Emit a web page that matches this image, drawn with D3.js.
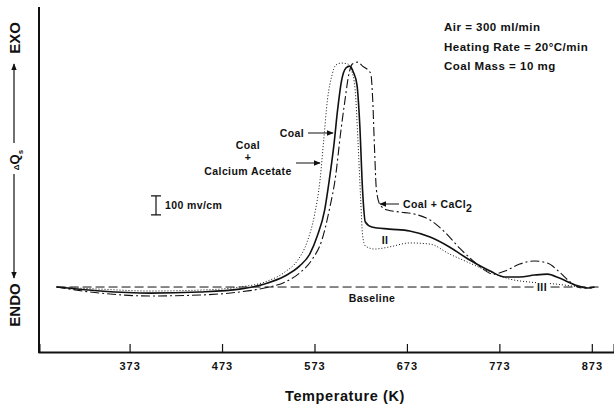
<!DOCTYPE html>
<html>
<head>
<meta charset="utf-8">
<script src="https://cdn.jsdelivr.net/npm/d3@7"></script>
<style>
  body { margin: 0; background: #fff; }
  text { font-family: "Liberation Sans", Arial, sans-serif; font-weight: bold; fill: #111; }
</style>
</head>
<body>
<div id="chart"></div>
<script>
// temperatures (K) and heat signal (mV, relative to baseline)
var coalT = [294,341,395,449,492,519,541,557,568,576,584,589,594,598,602,607,611,615,619,622,625,628,635,654,676,698,719,741,763,779,795,811,825,838,855,869,876];
var coalQ = [0,-21,-32,-26,-11,16,58,111,174,268,405,563,747,932,1079,1153,1163,1132,1063,853,511,342,316,305,295,263,211,142,84,53,53,63,68,47,11,-5,0];

var acetateT = [294,341,395,449,492,519,541,555,565,573,579,583,587,592,596,602,609,613,617,620,623,625,628,638,654,676,698,719,741,763,784,806,833,860];
var acetateQ = [0,-11,-21,-16,0,26,79,142,237,379,563,774,984,1116,1168,1179,1174,1142,1037,774,458,274,216,200,211,232,226,174,126,79,42,26,16,0];

var cacl2T = [294,341,395,449,492,519,541,557,570,581,589,596,601,606,610,614,620,625,631,634,636,638,640,644,652,665,681,698,714,730,746,757,766,779,795,811,825,838,851,862,873];
var cacl2Q = [0,-32,-47,-42,-26,-5,26,74,142,247,405,589,800,984,1116,1174,1184,1163,1142,1121,984,721,511,432,405,395,384,353,289,205,132,89,68,84,121,137,126,79,21,-5,-5];

var xTicks = [373, 473, 573, 673, 773, 873];
var infoLines = ["Air = 300 ml/min", "Heating Rate = 20\u00B0C/min", "Coal Mass = 10 mg"];

var width = 614, height = 407;

var svg = d3.select("#chart")
    .append("svg")
    .attr("width", width)
    .attr("height", height);

var x = d3.scaleLinear().domain([275, 897]).range([39, 614]);
var y = d3.scaleLinear().domain([-342, 1474]).range([352, 7]);

// arrow heads
var defs = svg.append("defs");
defs.append("marker")
    .attr("id", "head")
    .attr("viewBox", "0 0 10 10")
    .attr("refX", 9).attr("refY", 5)
    .attr("markerWidth", 7).attr("markerHeight", 7)
    .attr("markerUnits", "userSpaceOnUse")
    .attr("orient", "auto")
    .append("path")
    .attr("d", "M0,1 L10,5 L0,9 Z")
    .attr("fill", "#111");

// axes
svg.append("line")
    .attr("x1", 39).attr("x2", 39)
    .attr("y1", 7).attr("y2", 353)
    .attr("stroke", "#111").attr("stroke-width", 2);

var xAxis = svg.append("g")
    .attr("transform", "translate(0,352)")
    .call(d3.axisBottom(x).tickValues(xTicks).tickSize(-8).tickPadding(6).tickFormat(d3.format("d")));
xAxis.select(".domain").attr("stroke", "#111").attr("stroke-width", 2);
xAxis.selectAll(".tick line").attr("stroke", "#111").attr("stroke-width", 1.2);
xAxis.selectAll(".tick text")
    .attr("font-size", 11)
    .attr("letter-spacing", 1)
    .attr("font-family", "Liberation Sans, Arial, sans-serif")
    .attr("font-weight", "bold")
    .attr("dy", "1.05em");

svg.append("text")
    .attr("x", 345).attr("y", 401)
    .attr("text-anchor", "middle")
    .attr("font-size", 14.5)
    .attr("letter-spacing", 0.6)
    .text("Temperature (K)");

// y label: ENDO <- dQs -> EXO
var yl = 14;
svg.append("text")
    .attr("transform", "translate(" + (yl + 6) + ",38) rotate(-90)")
    .attr("text-anchor", "middle")
    .attr("font-size", 15)
    .text("EXO");
svg.append("text")
    .attr("transform", "translate(" + (yl + 6) + ",305) rotate(-90)")
    .attr("text-anchor", "middle")
    .attr("font-size", 15)
    .text("ENDO");
var dq = svg.append("text")
    .attr("transform", "translate(" + (yl + 5) + ",160) rotate(-90)")
    .attr("text-anchor", "middle")
    .attr("font-size", 13);
dq.append("tspan").attr("font-size", 8).text("\u0394");
dq.append("tspan").text("Q");
dq.append("tspan").attr("font-size", 8).attr("dy", 4).text("s");

svg.append("line")
    .attr("x1", yl).attr("x2", yl).attr("y1", 143).attr("y2", 64)
    .attr("stroke", "#111").attr("stroke-width", 1.2)
    .attr("marker-end", "url(#head)");
svg.append("line")
    .attr("x1", yl).attr("x2", yl).attr("y1", 174).attr("y2", 278)
    .attr("stroke", "#111").attr("stroke-width", 1.2)
    .attr("marker-end", "url(#head)");

// baseline
svg.append("line")
    .attr("x1", x(294)).attr("x2", x(881))
    .attr("y1", y(0)).attr("y2", y(0))
    .attr("stroke", "#111").attr("stroke-width", 1)
    .attr("stroke-dasharray", "9,4");

// curves
var line = d3.line().curve(d3.curveMonotoneX);
function pts(ts, qs) { return ts.map(function(t, i) { return [x(t), y(qs[i])]; }); }

svg.append("path")
    .attr("d", line(pts(acetateT, acetateQ)))
    .attr("fill", "none").attr("stroke", "#111")
    .attr("stroke-width", 1).attr("stroke-dasharray", "1,2");

svg.append("path")
    .attr("d", line(pts(cacl2T, cacl2Q)))
    .attr("fill", "none").attr("stroke", "#111")
    .attr("stroke-width", 1.1).attr("stroke-dasharray", "9,3,2,3");

svg.append("path")
    .attr("d", line(pts(coalT, coalQ)))
    .attr("fill", "none").attr("stroke", "#111")
    .attr("stroke-width", 1.6);

// info block
svg.selectAll(".info")
    .data(infoLines)
    .enter()
    .append("text")
    .attr("class", "info")
    .attr("x", 444)
    .attr("y", function(d, i) { return 31 + i * 19.5; })
    .attr("font-size", 11.5)
    .attr("letter-spacing", 0.5)
    .text(function(d) { return d; });

// annotations
function label(tx, ty, str, anchor) {
    return svg.append("text")
        .attr("x", tx).attr("y", ty)
        .attr("text-anchor", anchor || "start")
        .attr("font-size", 10.5)
        .attr("letter-spacing", 0.4)
        .text(str);
}
function arrow(x1, y1, x2, y2) {
    svg.append("line")
        .attr("x1", x1).attr("y1", y1).attr("x2", x2).attr("y2", y2)
        .attr("stroke", "#111").attr("stroke-width", 1)
        .attr("marker-end", "url(#head)");
}

label(292, 137, "Coal", "middle");
arrow(308, 133, 333, 133);

label(248, 149, "Coal", "middle");
label(248, 161, "+", "middle");
label(248, 175, "Calcium Acetate", "middle");
arrow(296, 163, 320, 163);

var cc = label(403, 208, "Coal + CaCl");
cc.append("tspan").attr("dy", 4).text("2");
arrow(399, 204, 380, 204);

label(385, 244, "II", "middle");

svg.append("rect")
    .attr("x", 536).attr("y", y(0) - 6)
    .attr("width", 13).attr("height", 12)
    .attr("fill", "#fff");
label(542, y(0) + 4, "III", "middle");

label(372, 302, "Baseline", "middle");

// scale bar 100 mV
var sb = 156;
svg.append("path")
    .attr("d", "M" + (sb - 5) + "," + y(480) + "H" + (sb + 5) +
               "M" + sb + "," + y(480) + "V" + y(380) +
               "M" + (sb - 5) + "," + y(380) + "H" + (sb + 5))
    .attr("fill", "none").attr("stroke", "#111").attr("stroke-width", 1.2);
label(165, 209, "100 mv/cm");
</script>
</body>
</html>
